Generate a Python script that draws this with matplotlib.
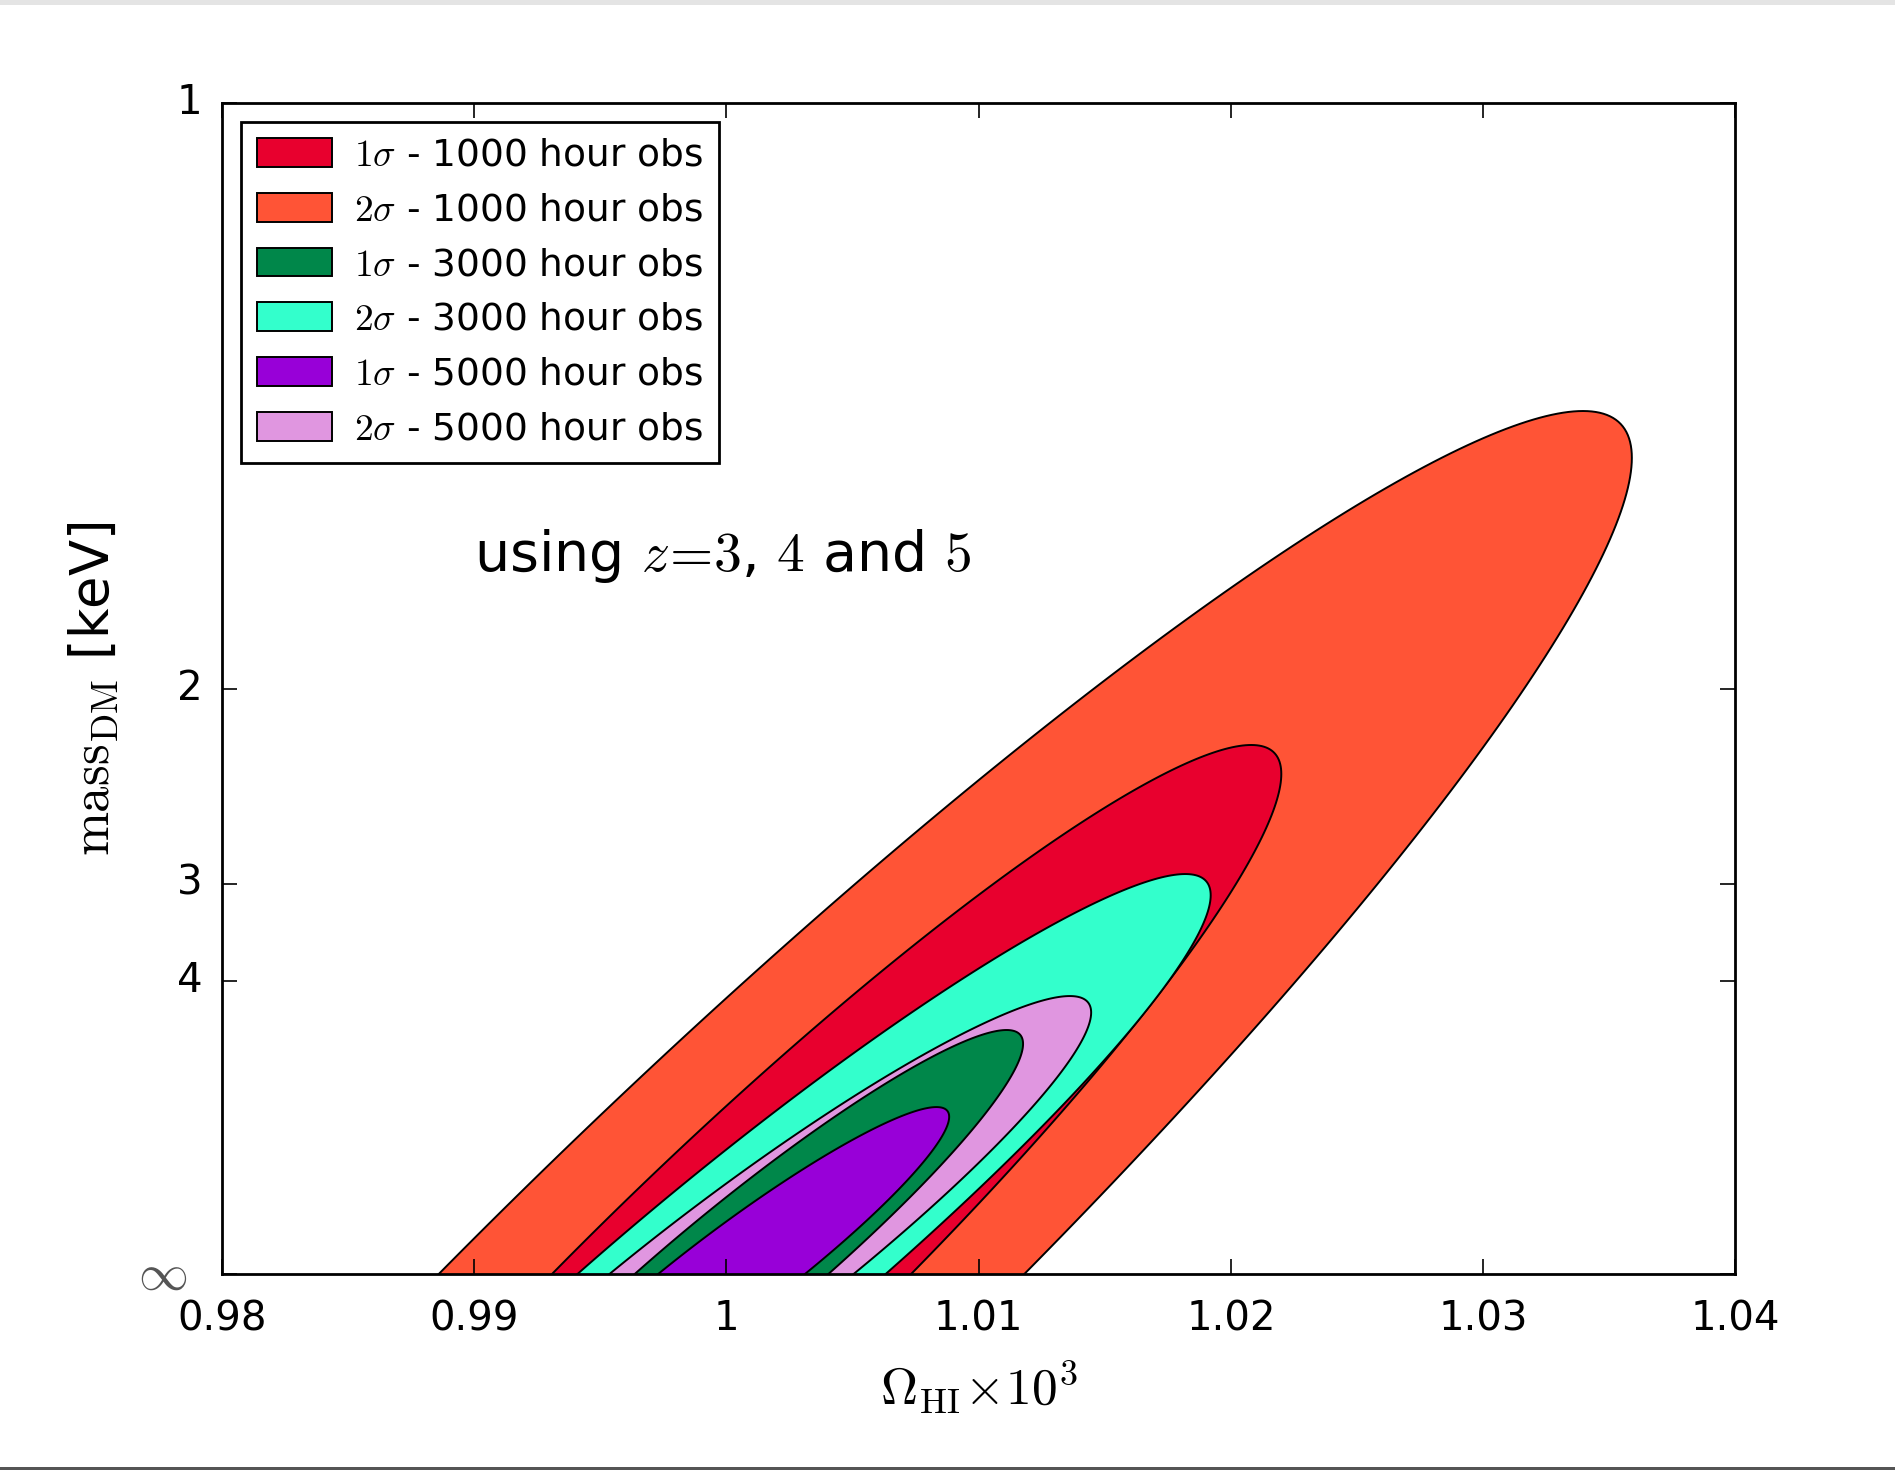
import numpy as np
import matplotlib
matplotlib.use("Agg")
import matplotlib.pyplot as plt
from matplotlib.patches import Rectangle
from matplotlib.transforms import ScaledTranslation

plt.style.use("classic")
plt.rcParams["font.family"] = ["DejaVu Sans"]
plt.rcParams["mathtext.fontset"] = "cm"

# Fiducial point: Omega_HI (x 10^3) and inverse DM mass (CDM -> 1/m = 0)
omega_fid = 1.0002
invmass_fid = 0.0

labels = [
    r"$1\sigma$ - 1000 hour obs",
    r"$2\sigma$ - 1000 hour obs",
    r"$1\sigma$ - 3000 hour obs",
    r"$2\sigma$ - 3000 hour obs",
    r"$1\sigma$ - 5000 hour obs",
    r"$2\sigma$ - 5000 hour obs",
]
colors = ["#e8002e", "#ff5436", "#00874a", "#33ffcc", "#9800d8", "#e096e0"]

# contour half-extents along each parameter, and half-width along Omega_HI at 1/m = 0
omega_extent = [0.0218, 0.0357, 0.01156, 0.0190, 0.00863, 0.01426]
invmass_extent = [0.4518, 0.737, 0.2084, 0.3416, 0.1426, 0.2374]
omega_halfwidth_cdm = [0.00712, 0.01161, 0.00384, 0.00611, 0.00291, 0.00484]

# largest contours first so the smaller ones stay visible
draw_order = [1, 0, 3, 5, 2, 4]

mass_ticks = [1, 2, 3, 4]
xticks = [0.98, 0.99, 1.0, 1.01, 1.02, 1.03, 1.04]


def contour(i, n=400):
    t = np.linspace(0, 2 * np.pi, n)
    dx, dy, hw = omega_extent[i], invmass_extent[i], omega_halfwidth_cdm[i]
    s = hw / dx  # sqrt(1 - rho^2)
    rho = np.sqrt(1 - s**2)
    x = omega_fid + dx * np.cos(t)
    y = invmass_fid + dy * (rho * np.cos(t) + s * np.sin(t))
    return x, y


fig = plt.figure(figsize=(18.95, 14.70), dpi=100, facecolor="white")
ax = fig.add_axes([0.1172, 0.1333, 0.7985, 0.7966])

handles = {}
for i in draw_order:
    x, y = contour(i)
    (poly,) = ax.fill(x, y, facecolor=colors[i], edgecolor="black",
                      linewidth=1.4, label=labels[i])
    handles[i] = poly

ax.set_xlim(0.98, 1.04)
ax.set_ylim(0, 1)
ax.set_xticks(xticks)
ax.set_xticklabels(["0.98", "0.99", "1", "1.01", "1.02", "1.03", "1.04"])
ax.set_yticks([0] + [1.0 / m for m in mass_ticks])
ax.set_yticklabels([r"$\infty$"] + [str(m) for m in mass_ticks])

ax.tick_params(axis="both", which="major", direction="in", length=11,
               width=1.2, labelsize=29, top=True, right=True)
ax.tick_params(axis="x", pad=18)
ax.tick_params(axis="y", pad=14)

# the infinity label sits a little further out and lighter than the others
inf_label = ax.yaxis.get_major_ticks()[0].label1
inf_label.set_fontsize(36)
inf_label.set_color("#555555")
inf_label.set_transform(inf_label.get_transform()
                        + ScaledTranslation(-0.16, -0.02, fig.dpi_scale_trans))

for sp in ax.spines.values():
    sp.set_linewidth(2.0)

ax.set_xlabel(r"$\Omega_{\rm HI}\!\times\!10^3$", fontsize=37, labelpad=14)
ax.set_ylabel(r"$\rm mass_{DM}$ [keV]", fontsize=38)
ax.yaxis.set_label_coords(-0.067, 0.5)

ax.text(0.99, 0.6, r"using $z\!=\!3$, $4$ and $5$", fontsize=40)

leg = ax.legend([handles[i] for i in range(6)], labels, loc="upper left",
                fontsize=27, handlelength=2.0, handleheight=0.8,
                labelspacing=0.5, borderpad=0.42, handletextpad=0.6,
                borderaxespad=0.5, fancybox=False, shadow=False)
leg.get_frame().set_linewidth(2.0)
leg.get_frame().set_edgecolor("black")

# thin grey bands along the top and bottom edges
fig.patches.append(Rectangle((0, 1 - 5 / 1470), 1, 5 / 1470, transform=fig.transFigure,
                             facecolor="#e4e4e4", edgecolor="none", zorder=-1))
fig.patches.append(Rectangle((0, 0), 1, 3 / 1470, transform=fig.transFigure,
                             facecolor="#555555", edgecolor="none", zorder=-1))

fig.savefig("out.png", dpi=100, facecolor="white")
